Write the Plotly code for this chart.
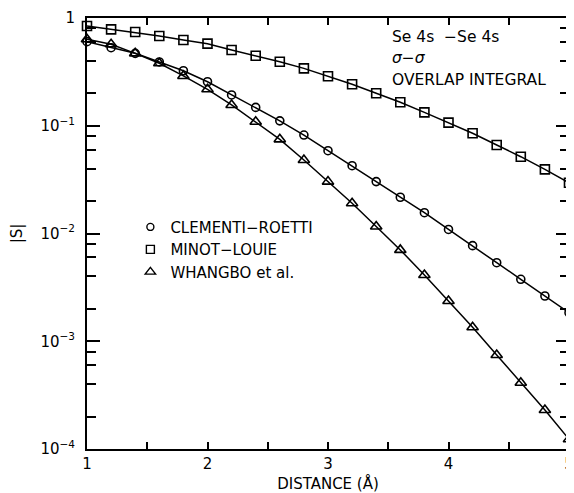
import plotly.graph_objects as go

distance = [1.0, 1.2, 1.4, 1.6, 1.8, 2.0, 2.2, 2.4, 2.6, 2.8, 3.0,
            3.2, 3.4, 3.6, 3.8, 4.0, 4.2, 4.4, 4.6, 4.8, 5.0]

clementi_roetti = [0.603, 0.530, 0.470, 0.391, 0.324, 0.256, 0.193, 0.148, 0.111, 0.0820, 0.0587,
                   0.0426, 0.0303, 0.0217, 0.0156, 0.0109, 0.00771, 0.00536, 0.00376, 0.00263, 0.00184]

minot_louie = [0.843, 0.785, 0.741, 0.681, 0.625, 0.578, 0.505, 0.447, 0.393, 0.341, 0.288,
               0.243, 0.200, 0.165, 0.133, 0.107, 0.0851, 0.0663, 0.0516, 0.0394, 0.0296]

whangbo = [0.634, 0.570, 0.470, 0.380, 0.290, 0.218, 0.156, 0.109, 0.0748, 0.0481, 0.0303,
           0.0191, 0.0116, 0.00704, 0.00412, 0.00236, 0.00135, 0.000745, 0.000412, 0.000230, 0.000123]

series_names = ["CLEMENTI\u2212ROETTI", "MINOT\u2212LOUIE", "WHANGBO et al."]
series_symbols = ["circle-open", "square-open", "triangle-up-open"]
series_sizes = [8, 9, 10]

y_tickvals = [1, 0.1, 0.01, 0.001, 0.0001]
y_ticktext = ["1", "10<sup>\u22121</sup>", "10<sup>\u22122</sup>", "10<sup>\u22123</sup>", "10<sup>\u22124</sup>"]
y_minor_vals = [m * 10.0 ** e for e in range(-4, 0) for m in (2, 4, 6, 8)]
x_tickvals = [1, 2, 3, 4, 5]
x_minor_vals = [1.5, 2.5, 3.5, 4.5]

FONT = "DejaVu Sans, Liberation Sans, sans-serif"

fig = go.Figure()
all_series = [clementi_roetti, minot_louie, whangbo]
for name, sym, size, ys in zip(series_names, series_symbols, series_sizes, all_series):
    fig.add_trace(go.Scatter(
        x=distance, y=ys, mode="lines+markers", showlegend=False,
        line=dict(color="black", width=1.5),
        marker=dict(symbol=sym, size=size, color="black", line=dict(color="black", width=1.6)),
        cliponaxis=False,
    ))
for name, sym, size in zip(series_names, series_symbols, series_sizes):
    fig.add_trace(go.Scatter(
        x=[None], y=[None], mode="markers", name=name,
        marker=dict(symbol=sym, size=size - 1, color="black", line=dict(color="black", width=1.4)),
    ))

# The page body has an 8px margin, so the figure is 8px smaller than the window
fig.update_layout(
    width=566, height=485,
    margin=dict(l=79, r=5, t=10, b=44, autoexpand=False),
    paper_bgcolor="white", plot_bgcolor="white",
    font=dict(family=FONT, size=15, color="black"),
    showlegend=True,
    legend=dict(x=0.09, y=0.553, xanchor="left", yanchor="top",
                bgcolor="rgba(0,0,0,0)", font=dict(size=15), tracegroupgap=0,
                itemwidth=30),
    xaxis=dict(
        range=[1, 5], showgrid=False, zeroline=False, automargin=False,
        showline=True, linecolor="black", linewidth=2, mirror="ticks",
        ticks="inside", ticklen=7, tickwidth=1.5, tickcolor="black",
        tickmode="array", tickvals=x_tickvals, ticktext=[str(v) for v in x_tickvals],
        minor=dict(tickmode="array", tickvals=x_minor_vals, ticks="inside", ticklen=7,
                   tickwidth=1.5, tickcolor="black", showgrid=False),
        title=dict(text="DISTANCE (\u00c5)", standoff=6, font=dict(size=15)),
        tickfont=dict(size=15),
    ),
    yaxis=dict(
        type="log", range=[-4, 0], showgrid=False, zeroline=False, automargin=False,
        showline=True, linecolor="black", linewidth=2, mirror="ticks",
        ticks="inside", ticklen=13, tickwidth=1.5, tickcolor="black",
        tickmode="array", tickvals=y_tickvals, ticktext=y_ticktext,
        ticklabelstandoff=7,
        minor=dict(tickmode="array", tickvals=y_minor_vals, ticks="inside", ticklen=9,
                   tickwidth=1.5, tickcolor="black", showgrid=False),
        title=dict(text="|S|", standoff=18, font=dict(size=15)),
        tickfont=dict(size=15),
    ),
    annotations=[
        dict(x=0.629, y=0.956, xref="paper", yref="paper", xanchor="left", yanchor="middle",
             text="Se 4s  \u2212Se 4s", showarrow=False, font=dict(size=15.5)),
        dict(x=0.629, y=0.907, xref="paper", yref="paper", xanchor="left", yanchor="middle",
             text="<i>\u03c3</i>\u2212<i>\u03c3</i>", showarrow=False, font=dict(size=15.5)),
        dict(x=0.629, y=0.856, xref="paper", yref="paper", xanchor="left", yanchor="middle",
             text="OVERLAP INTEGRAL", showarrow=False, font=dict(size=15.5)),
    ],
)

fig.write_html("out.html")
